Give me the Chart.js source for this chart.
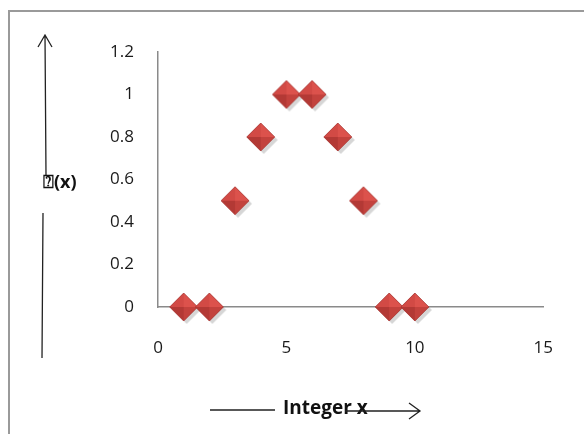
<!DOCTYPE html>
<html>
<head>
<meta charset="utf-8">
<script src="https://cdn.jsdelivr.net/npm/chart.js@4.4.1/dist/chart.umd.min.js"></script>
<style>
  html, body { margin: 0; padding: 0; background: #fff; }
  #wrap { width: 584px; height: 434px; position: relative; }
</style>
</head>
<body>
<div id="wrap"><canvas id="myChart" width="584" height="434"></canvas></div>
<script>
// data
const xValues = [1, 2, 3, 4, 5, 6, 7, 8, 9, 10];
const yValues = [0, 0, 0.5, 0.8, 1, 1, 0.8, 0.5, 0, 0];
const yLabel = '\u2370(x)';
const xLabel = 'Integer x';

// shaded diamond marker like the excel one
function makeDiamond(r) {
  const c = document.createElement('canvas');
  const pad = 4;
  const s = (r + pad) * 2;
  c.width = s; c.height = s;
  const g = c.getContext('2d');
  const cx = s / 2, cy = s / 2;
  // shadow
  g.fillStyle = 'rgba(0,0,0,0.16)';
  g.beginPath();
  g.moveTo(cx + 3, cy - r + 3); g.lineTo(cx + r + 3, cy + 3);
  g.lineTo(cx + 3, cy + r + 3); g.lineTo(cx - r + 3, cy + 3);
  g.closePath(); g.fill();
  const faces = [
    ['#dc524c', [cx, cy - r], [cx + r, cy]],
    ['#c3423d', [cx + r, cy], [cx, cy + r]],
    ['#b33935', [cx, cy + r], [cx - r, cy]],
    ['#d24a45', [cx - r, cy], [cx, cy - r]]
  ];
  faces.forEach(function(f) {
    g.fillStyle = f[0];
    g.beginPath();
    g.moveTo(cx, cy); g.lineTo(f[1][0], f[1][1]); g.lineTo(f[2][0], f[2][1]);
    g.closePath(); g.fill();
  });
  g.strokeStyle = '#a8322f';
  g.lineWidth = 0.8;
  g.beginPath();
  g.moveTo(cx, cy - r); g.lineTo(cx + r, cy); g.lineTo(cx, cy + r); g.lineTo(cx - r, cy);
  g.closePath(); g.stroke();
  return c;
}

const decor = {
  id: 'decor',
  afterDraw(chart) {
    const ctx = chart.ctx;
    ctx.save();
    // frame
    ctx.strokeStyle = '#9a9a9a';
    ctx.lineWidth = 2;
    ctx.beginPath();
    ctx.moveTo(9, 434); ctx.lineTo(9, 11); ctx.lineTo(584, 11);
    ctx.stroke();

    ctx.strokeStyle = '#222';
    ctx.lineWidth = 1.3;
    // y arrow
    ctx.beginPath();
    ctx.moveTo(46, 176); ctx.lineTo(45, 35);
    ctx.moveTo(38, 47); ctx.lineTo(45, 35); ctx.lineTo(52, 47);
    ctx.moveTo(43, 213); ctx.lineTo(42, 358);
    ctx.stroke();

    ctx.fillStyle = '#111';
    ctx.font = 'bold 18px "Open Sans", sans-serif';
    ctx.textBaseline = 'middle';
    ctx.textAlign = 'left';
    ctx.fillText(yLabel, 43, 183);
    ctx.font = 'bold 19px "Open Sans", sans-serif';
    ctx.fillText(xLabel, 283, 409);

    // x arrow
    ctx.beginPath();
    ctx.moveTo(210, 410); ctx.lineTo(275, 410);
    ctx.moveTo(345, 411); ctx.lineTo(420, 411);
    ctx.moveTo(409, 403); ctx.lineTo(420, 411); ctx.lineTo(409, 419);
    ctx.stroke();
    ctx.restore();
  }
};

const data = {
  datasets: [{
    label: 'f(x)',
    data: xValues.map(function(x, i) { return {x: x, y: yValues[i]}; }),
    pointStyle: makeDiamond(14),
    pointRadius: 14,
    pointHoverRadius: 14,
    clip: false
  }]
};

const tickFont = { family: '"Open Sans", sans-serif', size: 17 };

const config = {
  type: 'scatter',
  data: data,
  options: {
    responsive: false,
    animation: false,
    layout: { padding: { left: 10, top: 52, right: 40, bottom: 0 } },
    plugins: { legend: { display: false }, tooltip: { enabled: false } },
    scales: {
      x: {
        type: 'linear',
        min: 0, max: 15,
        grid: { display: false, drawTicks: false },
        border: { display: true, color: '#8a8a8a', width: 1.5 },
        ticks: { stepSize: 5, padding: 31, color: '#1a1a1a', font: tickFont },
        afterFit: function(s) { s.height = 127; }
      },
      y: {
        min: 0, max: 1.2,
        grid: { display: false, drawTicks: false },
        border: { display: true, color: '#8a8a8a', width: 1.5 },
        ticks: {
          stepSize: 0.2, padding: 24, color: '#1a1a1a', font: tickFont,
          callback: function(v) { return String(+v.toFixed(1)); }
        },
        afterFit: function(s) { s.width = 148; }
      }
    }
  },
  plugins: [decor]
};

const myChart = new Chart(document.getElementById('myChart'), config);
</script>
</body>
</html>
